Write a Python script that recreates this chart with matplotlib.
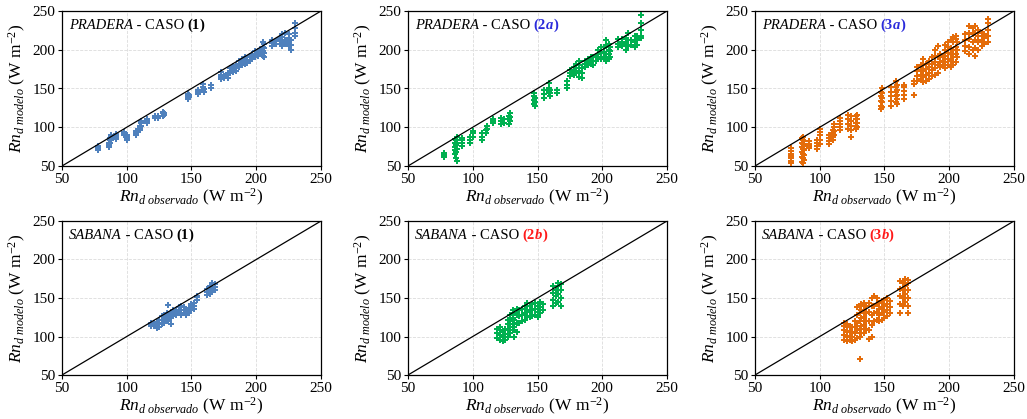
import matplotlib.pyplot as plt

plt.rcParams['font.family'] = ['Liberation Serif', 'DejaVu Serif']
plt.rcParams['mathtext.fontset'] = 'custom'
plt.rcParams['mathtext.rm'] = 'Liberation Serif'
plt.rcParams['mathtext.it'] = 'Liberation Serif:italic'
plt.rcParams['mathtext.bf'] = 'Liberation Serif:bold'

# Observed Rn_d values (W m-2), one entry per observation group
pradera_obs = [78, 86, 87, 88, 92, 98, 100, 107, 110, 111, 116, 122, 124, 128, 129,
               147, 148, 155, 159, 160, 165, 173, 175, 178, 180, 182, 184, 187, 189,
               191, 193, 195, 197, 199, 201, 203, 205, 206, 212, 215, 218, 220, 222,
               225, 227, 230]
sabana_obs = [119, 121, 123, 125, 127, 129, 131, 132, 134, 136, 138, 140, 142, 144,
              146, 148, 150, 152, 154, 162, 164, 166, 168]

# Modelled Rn_d for each observation group
pradera_caso1 = [
    [70, 72, 74, 76], [74, 76, 78, 80], [80, 83, 86], [84, 87, 90], [85, 87, 89, 91],
    [90, 92, 94], [84, 86, 88, 90], [90, 92, 95], [96, 99, 101], [102, 105, 108],
    [106, 108, 111], [112, 114], [112, 115], [115, 118, 120], [116, 119],
    [137, 139, 141, 143], [139, 142], [143, 146, 148], [148, 152, 156], [146, 149],
    [151, 154], [162, 165, 168, 171], [163, 166], [164, 167, 170], [170, 173, 176],
    [171, 175, 179], [173, 177, 180], [178, 182, 186], [180, 184, 188], [182, 186, 190],
    [183, 187], [186, 190, 192], [188, 192, 195], [190, 194, 198], [192, 196, 199],
    [194, 198, 201], [192, 198, 204, 210], [190, 196, 202, 208], [205, 209, 212],
    [207, 211], [208, 212, 215], [205, 210, 216, 220], [207, 213, 222],
    [205, 210, 215, 220], [200, 206, 212], [218, 222, 228, 235]]
pradera_caso2a = [
    [61, 64, 67], [65, 70, 75, 80, 85], [60, 68, 77, 84], [57, 72, 80, 87], [76, 80, 84, 86],
    [80, 84, 88], [88, 92, 95], [84, 88, 92], [92, 96], [98, 102],
    [105, 108, 110], [104, 108, 112], [106, 110], [104, 110, 114], [108, 113, 118],
    [130, 135, 140, 144], [128, 133, 138], [138, 143, 148], [145, 150, 157], [140, 144, 148],
    [144, 148], [150, 155, 160], [166, 170, 174], [168, 172, 178], [170, 176, 182],
    [165, 172, 180, 185], [164, 170, 176], [178, 182, 186], [180, 184, 188], [182, 186, 190],
    [180, 185, 190], [186, 192], [190, 195, 200], [188, 196, 204], [190, 197, 203],
    [185, 195, 205, 212], [188, 194, 200, 208], [190, 198, 204], [203, 208, 214],
    [205, 210, 214], [200, 207, 215], [205, 212, 222], [206, 213],
    [203, 210, 218], [206, 212, 218], [215, 218, 225, 235, 245]]
pradera_caso3a = [
    [54, 57, 60, 63, 66, 69, 73], [55, 62, 68, 74, 80, 86], [54, 60, 66, 72, 78, 84, 88],
    [58, 64, 70, 76, 82], [73, 76, 79, 82],
    [72, 76, 80, 84], [78, 84, 90, 94, 98], [78, 82, 86, 90], [83, 88, 93, 97],
    [90, 95, 100, 104],
    [96, 100, 104, 108, 112], [98, 104, 110, 116], [88, 96, 102, 108, 114],
    [98, 102, 106, 110, 114], [100, 105, 110, 116],
    [124, 128, 134, 140, 146], [126, 132, 138, 144, 150], [127, 134, 140, 146, 152],
    [132, 140, 146, 152, 160], [130, 136, 142, 148, 155],
    [137, 142, 147, 152, 155], [141, 156, 160], [160, 166, 172, 178], [162, 168, 174, 180],
    [158, 165, 172, 180, 188],
    [160, 168, 175, 182], [162, 170, 178, 186], [166, 174, 182, 190],
    [168, 176, 184, 192, 200], [170, 180, 190, 205],
    [178, 184, 190, 195], [180, 186, 192], [176, 184, 192, 200, 206],
    [180, 188, 196, 204, 210], [178, 186, 194, 202, 212],
    [180, 190, 200, 210, 216], [184, 194, 204, 214, 218], [190, 200, 210],
    [198, 205, 212, 220],
    [195, 204, 214, 222, 230], [200, 210, 220, 228], [192, 202, 212, 222, 230],
    [200, 210, 218, 225],
    [205, 212, 218, 222], [208, 215, 220], [210, 218, 226, 234, 240]]

sabana_caso1 = [
    [113, 116, 118], [114, 117], [111, 115, 119], [112, 118, 122], [116, 122, 126],
    [118, 124, 128], [120, 126, 130], [122, 128, 141], [116, 124, 132], [126, 130, 134],
    [128, 132, 135], [130, 134, 138], [128, 134, 140], [130, 134, 138], [128, 132, 136],
    [130, 134, 137], [134, 138, 142], [136, 140, 143], [148, 151, 153], [154, 158, 162],
    [155, 160, 165], [158, 163, 169], [160, 164, 168]]
sabana_caso2b = [
    [98, 104, 110], [96, 102, 108, 112], [94, 100, 106], [96, 103, 110],
    [100, 108, 116, 122], [104, 112, 120, 128], [108, 116, 124, 134], [100, 112, 122, 130],
    [106, 118, 128, 136], [118, 126, 134], [120, 128, 136], [122, 130, 140],
    [126, 134, 144], [125, 132, 140], [126, 134, 142], [128, 136, 144], [125, 132, 140],
    [130, 138, 145], [135, 142], [140, 148, 156, 165], [144, 152, 160],
    [145, 155, 165, 170], [140, 150, 160, 168]]
sabana_caso3b = [
    [96, 102, 108, 114, 118], [94, 100, 106, 112, 116], [95, 101, 107, 113],
    [94, 100, 106, 112], [96, 104, 112, 120], [98, 108, 118, 128, 138],
    [71, 100, 110, 120, 130, 140], [104, 114, 124, 134, 142], [105, 115, 125, 135, 144],
    [110, 120, 130, 140], [97, 108, 120, 132, 144], [100, 115, 128, 140, 150],
    [120, 130, 140, 152], [122, 132, 142, 150], [120, 128, 136, 144],
    [122, 130, 138, 146], [124, 132, 140, 148], [126, 134, 142, 150], [130, 138, 146],
    [130, 142, 152, 162, 172], [140, 150, 160, 170], [145, 155, 165, 175],
    [130, 140, 150, 160, 170, 174]]

site_names = ['PRADERA', 'PRADERA', 'PRADERA', 'SABANA', 'SABANA', 'SABANA']
case_labels = ['1', '2', '3', '1', '2', '3']
case_letters = ['', 'a', 'a', '', 'b', 'b']
case_colors = ['black', '#2b2bdb', '#2b2bdb', 'black', '#ff1a1a', '#ff1a1a']
point_colors = ['#4f81bd', '#00b050', '#e46c0a', '#4f81bd', '#00b050', '#e46c0a']
obs_sets = [pradera_obs] * 3 + [sabana_obs] * 3
mod_sets = [pradera_caso1, pradera_caso2a, pradera_caso3a,
            sabana_caso1, sabana_caso2b, sabana_caso3b]

W, H = 1027, 419
fig = plt.figure(figsize=(W / 100, H / 100), dpi=100)
col_left = [62, 408, 755]
row_span = [(11, 166), (221, 375)]
ax_w = 259

ticks = [50, 100, 150, 200, 250]

for i in range(6):
    r, c = divmod(i, 3)
    top, bot = row_span[r]
    ax = fig.add_axes([col_left[c] / W, 1 - bot / H, ax_w / W, (bot - top) / H])

    xs, ys = [], []
    for x, group in zip(obs_sets[i], mod_sets[i]):
        for y in group:
            xs.append(x)
            ys.append(y)
    ax.scatter(xs, ys, marker='P', s=14, color=point_colors[i], linewidths=0, zorder=3)
    ax.plot([50, 250], [50, 250], color='black', lw=0.9, zorder=4)

    ax.set_xlim(50, 250)
    ax.set_ylim(50, 250)
    ax.set_xticks(ticks)
    ax.set_yticks(ticks)
    ax.tick_params(labelsize=11, length=3, width=0.8, pad=2)
    ax.grid(True, color='#dcdcdc', linestyle='--', lw=0.6, zorder=0)
    for s in ax.spines.values():
        s.set_linewidth(0.9)

    ax.set_xlabel(r'$Rn_{d\ observado}$ (W m$^{-2}$)', fontsize=12.5, labelpad=1)
    ax.set_ylabel(r'$Rn_{d\ modelo}$ (W m$^{-2}$)', fontsize=12.5, labelpad=3)

    # panel title built piece by piece
    t = ax.text(0.027, 0.885, site_names[i], transform=ax.transAxes, fontsize=10.5,
                style='italic', va='baseline', ha='left')
    t = ax.annotate(' - CASO ', xy=(1, 0), xycoords=t, fontsize=10.5,
                    va='bottom', ha='left')
    t = ax.annotate('(' + case_labels[i], xy=(1, 0), xycoords=t, fontsize=10.5,
                    weight='bold', color=case_colors[i], va='bottom', ha='left')
    if case_letters[i]:
        t = ax.annotate(case_letters[i], xy=(1, 0), xycoords=t, fontsize=10.5,
                        weight='bold', style='italic', color=case_colors[i],
                        va='bottom', ha='left')
    ax.annotate(')', xy=(1, 0), xycoords=t, fontsize=10.5, weight='bold',
                color=case_colors[i], va='bottom', ha='left')

fig.savefig('out.png', dpi=100)
